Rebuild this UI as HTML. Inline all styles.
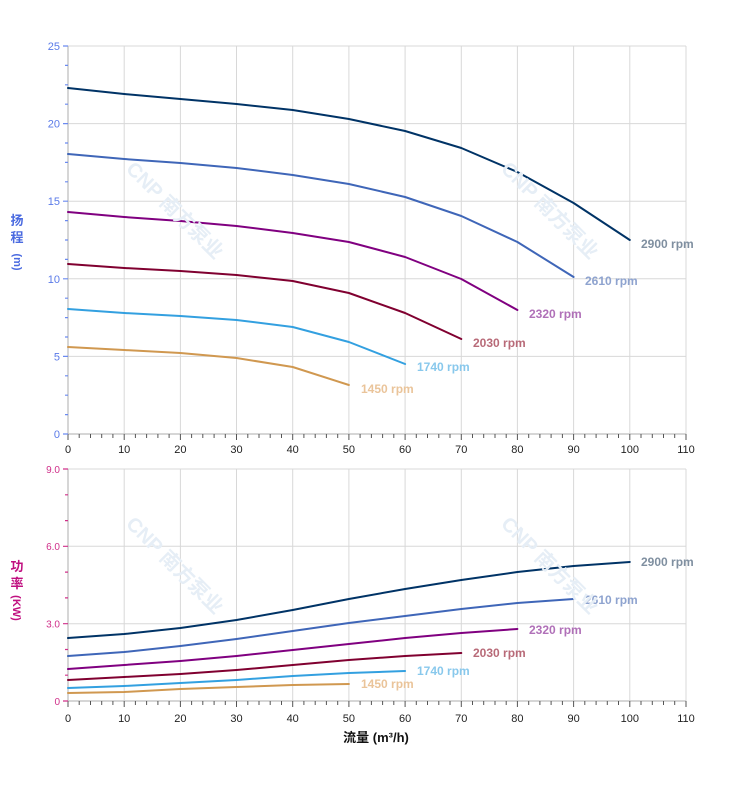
<!DOCTYPE html><html><head><meta charset="utf-8"><style>body{margin:0;background:#fff}svg{display:block;font-family:"Liberation Sans","Noto Sans CJK SC",sans-serif}</style></head><body>
<svg width="752" height="797" viewBox="0 0 752 797" xmlns="http://www.w3.org/2000/svg">
<g stroke="#d8d8d8" stroke-width="1">
<line x1="124.2" y1="46" x2="124.2" y2="434"/><line x1="180.4" y1="46" x2="180.4" y2="434"/><line x1="236.5" y1="46" x2="236.5" y2="434"/><line x1="292.7" y1="46" x2="292.7" y2="434"/><line x1="348.9" y1="46" x2="348.9" y2="434"/><line x1="405.1" y1="46" x2="405.1" y2="434"/><line x1="461.3" y1="46" x2="461.3" y2="434"/><line x1="517.4" y1="46" x2="517.4" y2="434"/><line x1="573.6" y1="46" x2="573.6" y2="434"/><line x1="629.8" y1="46" x2="629.8" y2="434"/><line x1="686" y1="46" x2="686" y2="434"/>
<line x1="68" y1="46" x2="686" y2="46"/><line x1="68" y1="123.6" x2="686" y2="123.6"/><line x1="68" y1="201.2" x2="686" y2="201.2"/><line x1="68" y1="278.8" x2="686" y2="278.8"/><line x1="68" y1="356.4" x2="686" y2="356.4"/>
<line x1="124.2" y1="469" x2="124.2" y2="701"/><line x1="180.4" y1="469" x2="180.4" y2="701"/><line x1="236.5" y1="469" x2="236.5" y2="701"/><line x1="292.7" y1="469" x2="292.7" y2="701"/><line x1="348.9" y1="469" x2="348.9" y2="701"/><line x1="405.1" y1="469" x2="405.1" y2="701"/><line x1="461.3" y1="469" x2="461.3" y2="701"/><line x1="517.4" y1="469" x2="517.4" y2="701"/><line x1="573.6" y1="469" x2="573.6" y2="701"/><line x1="629.8" y1="469" x2="629.8" y2="701"/><line x1="686" y1="469" x2="686" y2="701"/>
<line x1="68" y1="469" x2="686" y2="469"/><line x1="68" y1="546.3" x2="686" y2="546.3"/><line x1="68" y1="623.7" x2="686" y2="623.7"/>
</g>
<g stroke="#c8c8c8" stroke-width="1.5"><line x1="68" y1="46" x2="68" y2="434"/><line x1="68" y1="434" x2="686" y2="434"/><line x1="68" y1="469" x2="68" y2="701"/><line x1="68" y1="701" x2="686" y2="701"/></g>
<g stroke="#555" stroke-width="1">
<path d="M68 434v6M79.2 434v4M90.5 434v4M101.7 434v4M112.9 434v4M124.2 434v6M135.4 434v4M146.6 434v4M157.9 434v4M169.1 434v4M180.4 434v6M191.6 434v4M202.8 434v4M214.1 434v4M225.3 434v4M236.5 434v6M247.8 434v4M259 434v4M270.2 434v4M281.5 434v4M292.7 434v6M303.9 434v4M315.2 434v4M326.4 434v4M337.7 434v4M348.9 434v6M360.1 434v4M371.4 434v4M382.6 434v4M393.8 434v4M405.1 434v6M416.3 434v4M427.5 434v4M438.8 434v4M450 434v4M461.3 434v6M472.5 434v4M483.7 434v4M495 434v4M506.2 434v4M517.4 434v6M528.7 434v4M539.9 434v4M551.1 434v4M562.4 434v4M573.6 434v6M584.8 434v4M596.1 434v4M607.3 434v4M618.5 434v4M629.8 434v6M641 434v4M652.3 434v4M663.5 434v4M674.7 434v4M686 434v6"/>
<path d="M68 701v6M79.2 701v4M90.5 701v4M101.7 701v4M112.9 701v4M124.2 701v6M135.4 701v4M146.6 701v4M157.9 701v4M169.1 701v4M180.4 701v6M191.6 701v4M202.8 701v4M214.1 701v4M225.3 701v4M236.5 701v6M247.8 701v4M259 701v4M270.2 701v4M281.5 701v4M292.7 701v6M303.9 701v4M315.2 701v4M326.4 701v4M337.7 701v4M348.9 701v6M360.1 701v4M371.4 701v4M382.6 701v4M393.8 701v4M405.1 701v6M416.3 701v4M427.5 701v4M438.8 701v4M450 701v4M461.3 701v6M472.5 701v4M483.7 701v4M495 701v4M506.2 701v4M517.4 701v6M528.7 701v4M539.9 701v4M551.1 701v4M562.4 701v4M573.6 701v6M584.8 701v4M596.1 701v4M607.3 701v4M618.5 701v4M629.8 701v6M641 701v4M652.3 701v4M663.5 701v4M674.7 701v4M686 701v6"/>
</g>
<g stroke="#6b8af0" stroke-width="1.2"><path d="M63 46h5M65 65.4h3M65 84.8h3M65 104.2h3M63 123.6h5M65 143h3M65 162.4h3M65 181.8h3M63 201.2h5M65 220.6h3M65 240h3M65 259.4h3M63 278.8h5M65 298.2h3M65 317.6h3M65 337h3M63 356.4h5M65 375.8h3M65 395.2h3M65 414.6h3M63 434h5"/></g>
<g stroke="#d0308a" stroke-width="1.2"><path d="M63 469h5M65 494.8h3M65 520.6h3M63 546.3h5M65 572.1h3M65 597.9h3M63 623.7h5M65 649.5h3M65 675.2h3M63 701h5"/></g>
<g font-size="11" fill="#5a7ae8" text-anchor="end"><text x="60" y="50">25</text><text x="60" y="127.6">20</text><text x="60" y="205.2">15</text><text x="60" y="282.8">10</text><text x="60" y="360.4">5</text><text x="60" y="438">0</text></g>
<g font-size="10" fill="#d0308a" text-anchor="end"><text x="60" y="473">9.0</text><text x="60" y="550">6.0</text><text x="60" y="627.5">3.0</text><text x="60" y="705">0</text></g>
<g font-size="11" fill="#222" text-anchor="middle"><text x="68" y="453">0</text><text x="124.2" y="453">10</text><text x="180.4" y="453">20</text><text x="236.5" y="453">30</text><text x="292.7" y="453">40</text><text x="348.9" y="453">50</text><text x="405.1" y="453">60</text><text x="461.3" y="453">70</text><text x="517.4" y="453">80</text><text x="573.6" y="453">90</text><text x="629.8" y="453">100</text><text x="686" y="453">110</text>
<text x="68" y="722">0</text><text x="124.2" y="722">10</text><text x="180.4" y="722">20</text><text x="236.5" y="722">30</text><text x="292.7" y="722">40</text><text x="348.9" y="722">50</text><text x="405.1" y="722">60</text><text x="461.3" y="722">70</text><text x="517.4" y="722">80</text><text x="573.6" y="722">90</text><text x="629.8" y="722">100</text><text x="686" y="722">110</text></g>
<text x="376" y="742" font-size="13" font-weight="bold" fill="#111" text-anchor="middle">流量 (m³/h)</text>
<g font-size="13" font-weight="bold" fill="#4a6ae0" text-anchor="middle"><text x="17" y="225">扬</text><text x="17" y="242">程</text><text x="17" y="265" font-size="11" transform="rotate(90 17 262)">(m)</text></g>
<g font-size="13" font-weight="bold" fill="#c01080" text-anchor="middle"><text x="17" y="571">功</text><text x="17" y="588">率</text><text x="17" y="612" font-size="11" transform="rotate(90 17 608)">(KW)</text></g>
<g fill="none" stroke-width="2" stroke-linejoin="round" stroke-linecap="round">
<polyline stroke="#003366" points="68,88 124.2,94 180.4,99 236.5,104 292.7,110 348.9,119 405.1,131 461.3,148 517.4,172 573.6,203 629.8,240"/>
<polyline stroke="#3f66b8" points="68,154 124.2,159 180.4,163 236.5,168 292.7,175 348.9,184 405.1,197 461.3,216 517.4,242 573.6,277"/>
<polyline stroke="#800080" points="68,212 124.2,217 180.4,221 236.5,226 292.7,233 348.9,242 405.1,257 461.3,279 517.4,310"/>
<polyline stroke="#800030" points="68,264 124.2,268 180.4,271 236.5,275 292.7,281 348.9,293 405.1,313 461.3,339"/>
<polyline stroke="#33a0e0" points="68,309 124.2,313 180.4,316 236.5,320 292.7,327 348.9,342 405.1,364"/>
<polyline stroke="#d09850" points="68,347 124.2,350 180.4,353 236.5,358 292.7,367 348.9,385"/>
<polyline stroke="#003366" points="68,638 124.2,634 180.4,628 236.5,620 292.7,610 348.9,599 405.1,589 461.3,580 517.4,572 573.6,566 629.8,562"/>
<polyline stroke="#3f66b8" points="68,656 124.2,652 180.4,646 236.5,639 292.7,631 348.9,623 405.1,616 461.3,609 517.4,603 573.6,599"/>
<polyline stroke="#800080" points="68,669 124.2,665 180.4,661 236.5,656 292.7,650 348.9,644 405.1,638 461.3,633 517.4,629"/>
<polyline stroke="#800030" points="68,680 124.2,677 180.4,674 236.5,670 292.7,665 348.9,660 405.1,656 461.3,653"/>
<polyline stroke="#33a0e0" points="68,688 124.2,686 180.4,683 236.5,680 292.7,676 348.9,673 405.1,671"/>
<polyline stroke="#d09850" points="68,693 124.2,692 180.4,689 236.5,687 292.7,685 348.9,684"/>
</g>
<g font-size="12" font-weight="bold">
<text x="641" y="248" fill="#7f8fa0">2900 rpm</text><text x="585" y="285" fill="#8ea3cf">2610 rpm</text><text x="529" y="318" fill="#b070b8">2320 rpm</text><text x="473" y="347" fill="#b86a78">2030 rpm</text><text x="417" y="371" fill="#88c8ec">1740 rpm</text><text x="361" y="393" fill="#eac49a">1450 rpm</text>
<text x="641" y="566" fill="#7f8fa0">2900 rpm</text><text x="585" y="604" fill="#8ea3cf">2610 rpm</text><text x="529" y="634" fill="#b070b8">2320 rpm</text><text x="473" y="657" fill="#b86a78">2030 rpm</text><text x="417" y="675" fill="#88c8ec">1740 rpm</text><text x="361" y="688" fill="#eac49a">1450 rpm</text>
</g>
<g font-size="20" font-weight="bold" fill="#e6eef6"><text x="125" y="170" transform="rotate(45 125 170)">CNP 南方泵业</text><text x="500" y="170" transform="rotate(45 500 170)">CNP 南方泵业</text><text x="125" y="525" transform="rotate(45 125 525)">CNP 南方泵业</text><text x="500" y="525" transform="rotate(45 500 525)">CNP 南方泵业</text></g>
</svg></body></html>
